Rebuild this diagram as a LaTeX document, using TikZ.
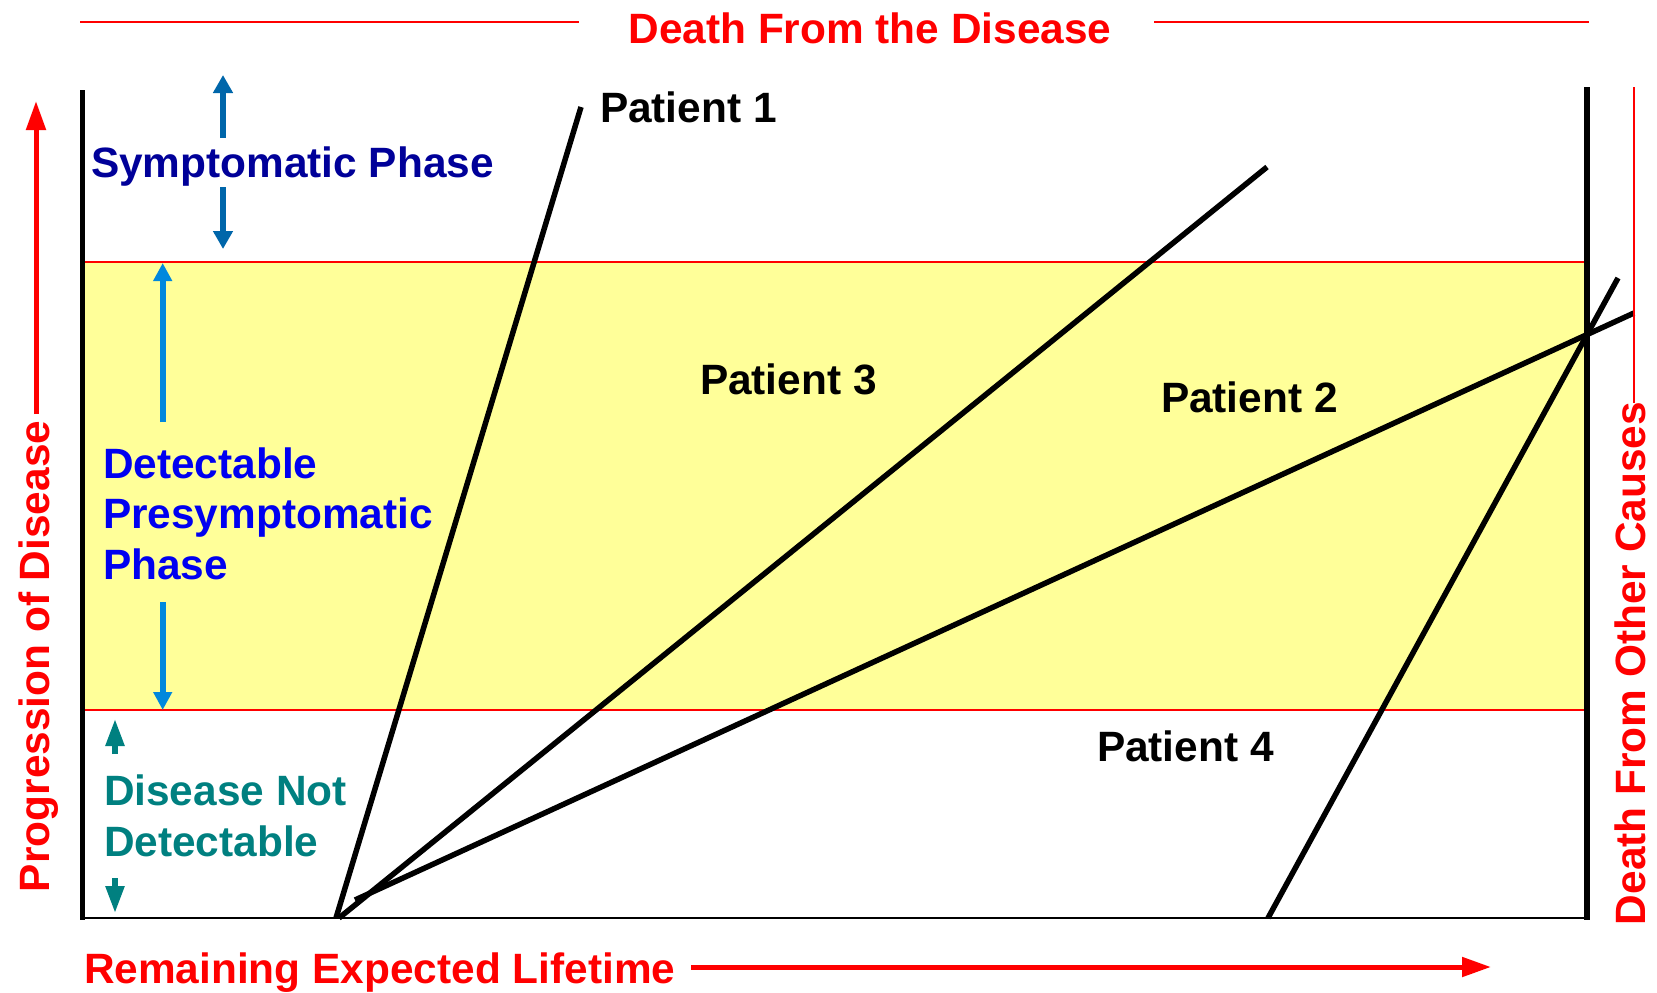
\documentclass[tikz,border=0pt]{standalone}
\usepackage{fontspec}
\setmainfont{Liberation Sans}
\usetikzlibrary{arrows.meta}
\definecolor{symtext}{RGB}{0,0,153}
\definecolor{symarrow}{RGB}{0,102,170}
\definecolor{dettext}{RGB}{0,0,240}
\definecolor{detarrow}{RGB}{0,136,221}
\definecolor{tealc}{RGB}{0,128,128}
\definecolor{band}{RGB}{255,255,153}
\newcommand\bigfont{\fontsize{42.4}{50.5}\selectfont\bfseries}
\tikzset{
  lbl/.style={inner sep=0pt, outer sep=0pt, anchor=base west, font=\bigfont},
  pline/.style={line width=5.5pt, black},
  frame/.style={line width=5.5pt, black},
  redthin/.style={line width=2pt, red},
  symarr/.style={line width=6pt, symarrow, -{Triangle[length=18pt,width=19pt]}},
  detarr/.style={line width=6pt, detarrow, -{Triangle[length=18pt,width=18pt]}},
  tealarr/.style={line width=5.5pt, tealc, -{Triangle[length=27pt,width=18pt]}},
  redarr/.style={line width=5pt, red, -{Triangle[length=29pt,width=19pt]}},
}
\begin{document}
\begin{tikzpicture}[x=1pt,y=-1pt]
\useasboundingbox (0,0) rectangle (1657,993);
% band
\fill[band] (82,262) rectangle (1587,710);
\coordinate (bandTL) at (82,262);
\coordinate (bandTR) at (1587,262);
\coordinate (bandBL) at (82,710);
\coordinate (bandBR) at (1587,710);
\draw[redthin] (bandTL) -- (bandTR);
\draw[redthin] (bandBL) -- (bandBR);
% frame
\coordinate (lt) at (82.5,90);
\coordinate (lb) at (82.5,920);
\coordinate (rt) at (1587,87);
\coordinate (rb) at (1587,920);
\coordinate (bl) at (82,918);
\coordinate (br) at (1587,918);
\draw[frame] (lt) -- (lb);
\draw[line width=6pt] (rt) -- (rb);
\draw[line width=2.5pt] (bl) -- (br);
% title lines
\coordinate (tl1) at (80,22);
\coordinate (tl2) at (579,22);
\coordinate (tr1) at (1154,22);
\coordinate (tr2) at (1589,22);
\draw[redthin] (tl1) -- (tl2);
\draw[redthin] (tr1) -- (tr2);
\node[inner sep=0pt, anchor=base, font=\bigfont, text=red] (title) at (870,43) {Death From the Disease};
% patient lines
\coordinate (p1a) at (336,918);
\coordinate (p1b) at (581,107);
\coordinate (p3a) at (339,918);
\coordinate (p3b) at (1267,167);
\coordinate (p2a) at (355,900);
\coordinate (p2b) at (1634,313);
\coordinate (p4a) at (1268,918);
\coordinate (p4b) at (1618,278);
\draw[pline] (p1a) -- (p1b);
\draw[pline] (p3a) -- (p3b);
\draw[pline] (p2a) -- (p2b);
\draw[pline] (p4a) -- (p4b);
\node[lbl] (pt1) at (600,122) {Patient 1};
\node[lbl] (pt3) at (700,394) {Patient 3};
\node[lbl] (pt2) at (1161,412) {Patient 2};
\node[lbl] (pt4) at (1097,761) {Patient 4};
% symptomatic
\coordinate (s1) at (223,138);
\coordinate (s1t) at (223,75);
\coordinate (s2) at (223,187);
\coordinate (s2t) at (223,249);
\draw[symarr] (s1) -- (s1t);
\draw[symarr] (s2) -- (s2t);
\node[lbl, text=symtext] (sym) at (91,177) {Symptomatic Phase};
% detectable
\coordinate (d1) at (162.7,422);
\coordinate (d1t) at (162.7,263);
\coordinate (d2) at (162.7,602);
\coordinate (d2t) at (162.7,710);
\draw[detarr] (d1) -- (d1t);
\draw[detarr] (d2) -- (d2t);
\node[lbl, text=dettext] (det1) at (103,478) {Detectable};
\node[lbl, text=dettext] (det2) at (103,528.5) {Presymptomatic};
\node[lbl, text=dettext] (det3) at (103,579) {Phase};
% not detectable
\coordinate (n1) at (115,754);
\coordinate (n1t) at (115,719);
\coordinate (n2) at (115,878);
\coordinate (n2t) at (115,913);
\draw[tealarr] (n1) -- (n1t);
\draw[tealarr] (n2) -- (n2t);
\node[lbl, text=tealc] (nd1) at (104,805) {Disease Not};
\node[lbl, text=tealc] (nd2) at (104,856) {Detectable};
% axes labels
\node[lbl, text=red, rotate=90] (prog) at (49.5,892) {Progression of Disease};
\coordinate (pa) at (36,414);
\coordinate (pat) at (36,101);
\draw[redarr] (pa) -- (pat);
\node[lbl, text=red] (rem) at (84,983) {Remaining Expected Lifetime};
\coordinate (ra) at (691,967);
\coordinate (rat) at (1491,967);
\draw[redarr] (ra) -- (rat);
\node[lbl, text=red, rotate=90] (doc) at (1645,925) {Death From Other Causes};
\coordinate (dv1) at (1634,87);
\coordinate (dv2) at (1634,403);
\draw[redthin] (dv1) -- (dv2);
\end{tikzpicture}
\end{document}
